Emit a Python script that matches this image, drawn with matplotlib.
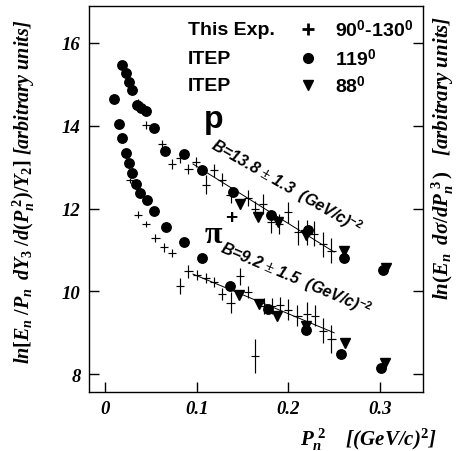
import matplotlib
matplotlib.use("Agg")
import matplotlib.pyplot as plt
import numpy as np

# ---------------- data ----------------
# ITEP 119 deg (dots)
itep119_p_x = [0.019, 0.023, 0.026, 0.030, 0.035, 0.039, 0.045, 0.053, 0.066, 0.086, 0.106,
               0.140, 0.181, 0.221, 0.261, 0.303]
itep119_p_y = [15.47, 15.28, 15.06, 14.87, 14.49, 14.43, 14.35, 13.95, 13.40, 13.32, 12.94,
               12.41, 11.85, 11.47, 10.80, 10.52]
itep119_pi_x = [0.010, 0.015, 0.019, 0.023, 0.026, 0.030, 0.034, 0.038, 0.046, 0.053, 0.067,
                0.086, 0.106, 0.136, 0.178, 0.219, 0.257, 0.301]
itep119_pi_y = [14.65, 14.03, 13.70, 13.34, 13.09, 12.86, 12.59, 12.38, 12.21, 11.94, 11.55,
                11.19, 10.80, 10.12, 9.57, 9.06, 8.48, 8.14]

# ITEP 88 deg (down triangles)
itep88_p_x = [0.147, 0.167, 0.189, 0.219, 0.261, 0.307]
itep88_p_y = [12.11, 11.79, 11.67, 11.36, 10.98, 10.56]
itep88_pi_x = [0.146, 0.168, 0.188, 0.219, 0.262, 0.306]
itep88_pi_y = [9.91, 9.69, 9.41, 9.17, 8.75, 8.28]

# This experiment 90-130 deg (crosses with errors)
exp_p_x = [0.036, 0.045, 0.062, 0.073, 0.082, 0.091, 0.099, 0.110, 0.119, 0.128, 0.137,
           0.156, 0.164, 0.172, 0.181, 0.190, 0.200, 0.211, 0.220, 0.228, 0.238, 0.247]
exp_p_y = [14.57, 14.01, 13.56, 13.07, 13.22, 12.95, 13.12, 12.58, 12.92, 12.70, 12.33,
           12.25, 11.99, 12.11, 11.67, 11.63, 11.91, 11.43, 11.43, 11.39, 11.14, 10.98]
exp_p_err = [0.08, 0.10, 0.10, 0.12, 0.12, 0.12, 0.12, 0.22, 0.15, 0.15, 0.20,
             0.20, 0.20, 0.25, 0.25, 0.25, 0.25, 0.30, 0.30, 0.30, 0.30, 0.30]
exp_pi_x = [0.027, 0.036, 0.045, 0.055, 0.064, 0.073, 0.082, 0.091, 0.100, 0.110, 0.119,
            0.128, 0.137, 0.147, 0.156, 0.164, 0.173, 0.182, 0.191, 0.200, 0.210, 0.220,
            0.229, 0.238, 0.247]
exp_pi_y = [12.68, 11.85, 11.63, 11.28, 11.06, 10.92, 10.13, 10.48, 10.40, 10.32, 10.22,
            9.94, 9.73, 10.36, 9.99, 8.44, 9.65, 9.65, 9.67, 9.56, 9.41, 9.45,
            9.41, 9.05, 8.85]
exp_pi_err = [0.06, 0.08, 0.08, 0.10, 0.10, 0.10, 0.20, 0.15, 0.12, 0.12, 0.12,
              0.15, 0.25, 0.20, 0.15, 0.40, 0.20, 0.20, 0.20, 0.25, 0.25, 0.30,
              0.25, 0.30, 0.35]

# exponential fits  ln = A - B * P^2
fit_range = [0.096, 0.250]
fit_p = (14.40, 13.8)
fit_pi = (11.30, 9.2)

xticks = [0, 0.1, 0.2, 0.3]
xticklabels = ["0", "0.1", "0.2", "0.3"]
yticks = [8, 10, 12, 14, 16]

# ---------------- style ----------------
plt.rcParams['mathtext.fontset'] = 'custom'
plt.rcParams['mathtext.it'] = 'Liberation Serif:bold:italic'
plt.rcParams['mathtext.rm'] = 'Liberation Serif:bold'
plt.rcParams['mathtext.bf'] = 'Liberation Serif:bold'
plt.rcParams['mathtext.sf'] = 'Liberation Sans:bold'

serif_bi = dict(family='Liberation Serif', weight='bold', style='italic')
sans_b = dict(family=['Liberation Sans', 'DejaVu Sans'], weight='bold')

fig = plt.figure(figsize=(4.68, 4.52), dpi=100)
ax = fig.add_axes([0.190, 0.1305, 0.714, 0.854])

ax.errorbar(exp_p_x, exp_p_y, yerr=exp_p_err, xerr=0.0045, fmt='none',
            ecolor='black', elinewidth=0.85, capsize=0)
ax.errorbar(exp_pi_x, exp_pi_y, yerr=exp_pi_err, xerr=0.0045, fmt='none',
            ecolor='black', elinewidth=0.85, capsize=0)

ax.plot(itep119_p_x, itep119_p_y, 'o', color='black', ms=6.8, mec='black')
ax.plot(itep119_pi_x, itep119_pi_y, 'o', color='black', ms=6.8, mec='black')
ax.plot(itep88_p_x, itep88_p_y, 'v', color='black', ms=6.5)
ax.plot(itep88_pi_x, itep88_pi_y, 'v', color='black', ms=6.5)

fx = np.array(fit_range)
ax.plot(fx, fit_p[0] - fit_p[1] * fx, color='black', lw=0.7)
ax.plot(fx, fit_pi[0] - fit_pi[1] * fx, color='black', lw=0.7)

ax.set_xlim(-0.0175, 0.347)
ax.set_ylim(7.57, 16.89)

ax.set_xticks(xticks)
ax.set_xticklabels(xticklabels)
ax.set_yticks(yticks)
ax.tick_params(axis='both', direction='in', length=7, width=1, labelsize=13.5, pad=6)
ax.tick_params(axis='y', right=True, left=True)
ax.tick_params(axis='x', top=False)
for lab in ax.get_xticklabels() + ax.get_yticklabels():
    lab.set_fontfamily('Liberation Serif')
    lab.set_fontweight('bold')
    lab.set_fontstyle('italic')
for s in ax.spines.values():
    s.set_linewidth(1.0)

# axis labels
ax.set_xlabel(r'$P_n^{\;2}$    [(GeV/c)$^{2}$]', fontsize=15, ha='right', **serif_bi)
ax.xaxis.set_label_coords(1.04, -0.088)
ax.set_ylabel(r'$ln[E_n\;/P_n\;\;dY_3\;/d(P_n^{\;2})/Y_2]$ [arbitrary units]',
              fontsize=14.5, **serif_bi)
ax.yaxis.set_label_coords(-0.155, 0.52)
ax.text(1.06, 0.61, r'$ln(E_n\;\;d\sigma/dP_n^{\;3}\,)$   [arbitrary units]',
        transform=ax.transAxes, rotation=90, ha='center', va='center',
        fontsize=15, **serif_bi)

# legend
rows_y = [0.940, 0.865, 0.795]
names = ["This Exp.", "ITEP", "ITEP"]
angles = [r'90$^{\mathsf{0}}$-130$^{\mathsf{0}}$', r'119$^{\mathsf{0}}$', r'88$^{\mathsf{0}}$']
marks = ['+', 'o', 'v']
for yy, nm, an, mk in zip(rows_y, names, angles, marks):
    ax.text(0.296, yy, nm, transform=ax.transAxes, ha='left', va='center',
            fontsize=14, **sans_b)
    ax.text(0.737, yy, an, transform=ax.transAxes, ha='left', va='center',
            fontsize=14, **sans_b)
    ax.plot([0.656], [yy], marker=mk, color='black', ms=7 if mk != '+' else 8,
            mew=2 if mk == '+' else 1, transform=ax.transAxes, clip_on=False)

# annotations
ax.text(0.345, 0.6865, 'p', transform=ax.transAxes, fontsize=23, **sans_b)
ax.text(0.345, 0.389, 'π', transform=ax.transAxes, fontsize=23,
        family='Liberation Serif', weight='bold')
ax.text(0.425, 0.453, '+', transform=ax.transAxes, fontsize=15, ha='center',
        va='center', **sans_b)
ax.text(0.1145, 13.47, r'B=13.8 $\pm$ 1.3  (GeV/c)$^{\mathsf{-2}}$', rotation=-30,
        rotation_mode='anchor', ha='left', va='baseline', fontsize=11.5,
        family='Liberation Sans', weight='bold', style='italic')
ax.text(0.1243, 10.975, r'B=9.2 $\pm$ 1.5  (GeV/c)$^{\mathsf{-2}}$', rotation=-23,
        rotation_mode='anchor', ha='left', va='baseline', fontsize=11.5,
        family='Liberation Sans', weight='bold', style='italic')

fig.savefig('out.png', dpi=100)
